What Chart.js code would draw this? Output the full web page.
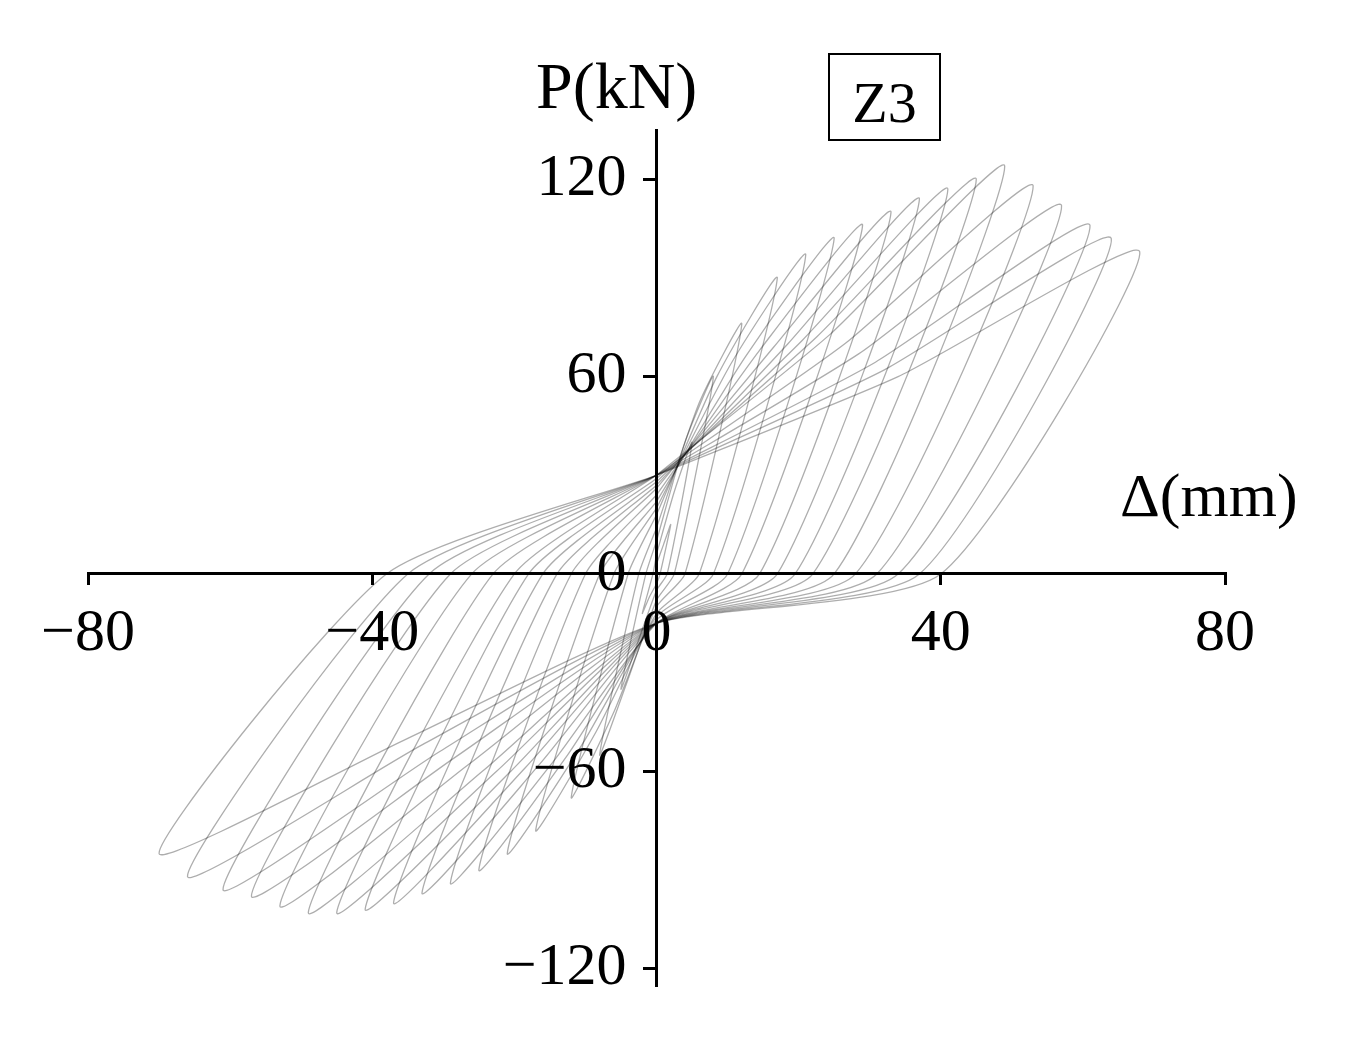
<!DOCTYPE html>
<html><head><meta charset="utf-8">
<script src="https://cdn.jsdelivr.net/npm/chart.js@4/dist/chart.umd.min.js"></script>
<style>
body{margin:0;background:#fff;}
#wrap{position:relative;width:1354px;height:1045px;}
.t{position:absolute;font-family:"Liberation Serif","DejaVu Serif",serif;color:#000;white-space:nowrap;}
</style></head><body>
<div id="wrap"><canvas id="c" width="1354" height="1045"></canvas>
<div class="t" style="left:536px;top:48px;font-size:66px;">P(kN)</div>
<div class="t" style="left:1120px;top:460px;font-size:62px;">Δ(mm)</div>
<div class="t" style="left:828px;top:53px;width:113px;height:88px;border:2px solid #000;font-size:58px;text-align:center;line-height:96px;box-sizing:border-box;">Z3</div>
</div>
<script>
// Loop key values (Δ in mm, P in kN)
const posPeakX = [2,5,8,12,17,21,25,29,33,37,41,45,49,53,57,61,64,68];
const posPeakY = [15,40,60,76,90,97,102,106,110,114,117,120,124,118,112,106,102,98];
const posMidY  = [9,25,40,52,60,64,66,68,69,70,71,72,73,70,67,64,62,60];
const posRes   = [0.5,1.5,2.5,4,6,8,10,12,14.5,17,19.5,22,25,28,31,34,37,40];
const negInt   = [-3,-5,-8,-10,-12,-13,-14,-15,-15,-15,-15,-15,-15,-15,-15,-15,-15,-15];
const negPeakX = [-2,-5,-8,-12,-17,-21,-25,-29,-33,-37,-41,-45,-49,-53,-57,-61,-66,-70];
const negPeakY = [-12,-35,-55,-68,-78,-85,-90,-94,-97,-100,-102,-103,-103,-101,-98,-96,-92,-85];
const negMidY  = [-7,-20,-32,-42,-48,-52,-55,-57,-58,-59,-60,-60,-60,-58,-56,-54,-52,-50];
const negRes   = [-0.5,-1.5,-2.5,-4,-6,-8,-10,-12,-14,-16,-18,-20,-23,-26,-29,-32,-35,-38];
const posInt   = [3,6,10,14,18,20,22,24,26,27,28,29,30,30,30,30,30,30];
const xTicks = [-80,-40,0,40,80];
const yTicks = [-120,-60,0,60,120];

const datasets = posPeakX.map((dp,i)=>{
  const nextInt = posInt[Math.min(i+1,posInt.length-1)];
  return {
    data:[
      {x:0,y:posInt[i]},
      {x:dp/2,y:posMidY[i]},
      {x:dp,y:posPeakY[i]},
      {x:posRes[i],y:0},
      {x:0,y:negInt[i]},
      {x:negPeakX[i]/2,y:negMidY[i]},
      {x:negPeakX[i],y:negPeakY[i]},
      {x:negRes[i],y:0},
      {x:0,y:nextInt}
    ],
    showLine:true,pointRadius:0,borderWidth:1.3,tension:0.2,
    borderColor:'rgba(0,0,0,0.32)'
  };
});
const font={family:'"Liberation Serif","DejaVu Serif",serif',size:60};
const fmt=v=>String(v).replace('-','\u2212');
new Chart(document.getElementById('c'),{
  type:'scatter',
  data:{datasets},
  options:{
    responsive:false,animation:false,
    layout:{padding:{left:88,right:129,top:130,bottom:60}},
    plugins:{legend:{display:false},tooltip:{enabled:false}},
    scales:{
      x:{type:'linear',position:{y:0},min:-80,max:80,
        afterBuildTicks:s=>{s.ticks=xTicks.map(v=>({value:v}));},
        border:{color:'#000',width:3},
        grid:{drawOnChartArea:false,color:'#000',lineWidth:3,tickLength:10},
        ticks:{color:'#000',font,padding:14,maxRotation:0,callback:fmt}},
      y:{type:'linear',position:{x:0},min:-125,max:135,
        afterBuildTicks:s=>{s.ticks=yTicks.map(v=>({value:v}));},
        border:{color:'#000',width:3},
        grid:{drawOnChartArea:false,color:'#000',lineWidth:3,tickLength:12},
        ticks:{color:'#000',font,padding:22,callback:v=>fmt(v)+'\u2002'}}
    }
  }
});
</script></body></html>
